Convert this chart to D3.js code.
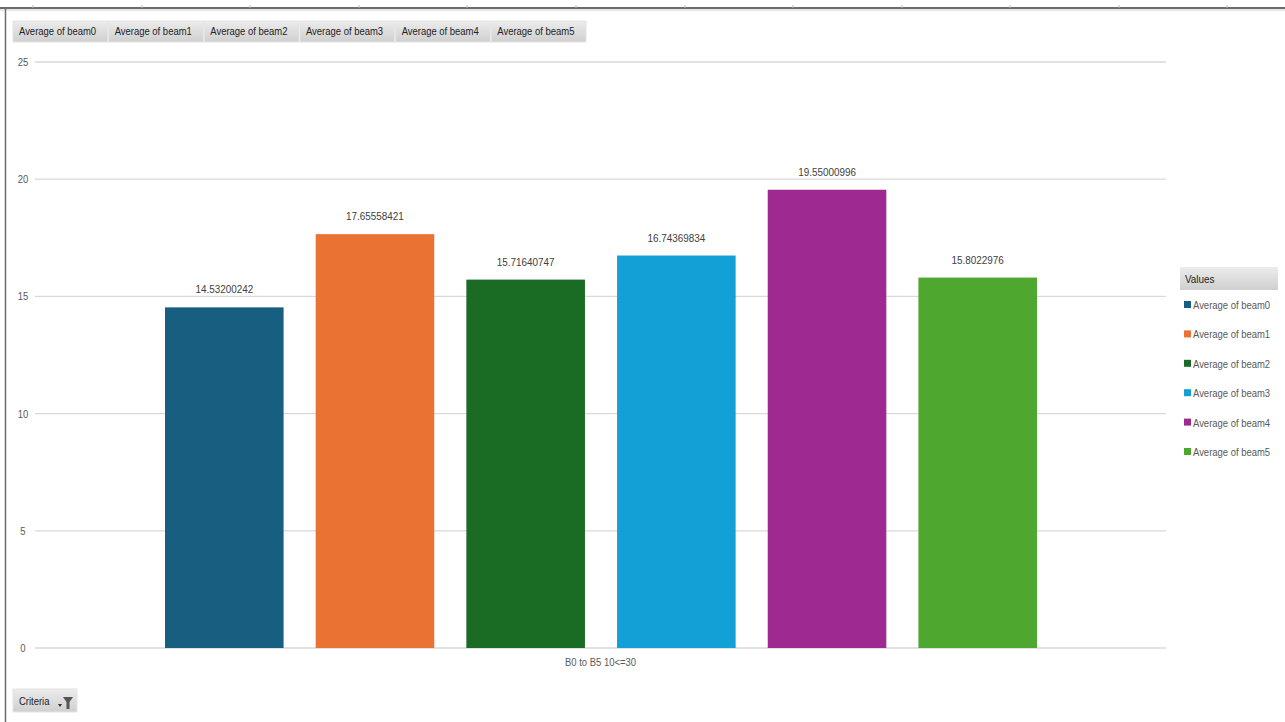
<!DOCTYPE html>
<html><head><meta charset="utf-8">
<script src="https://cdn.jsdelivr.net/npm/d3@7"></script>
<style>
body{margin:0;background:#fff;}
svg{display:block;font-family:"Liberation Sans Narrow","Arial Narrow","Liberation Sans",Arial,sans-serif;}
</style></head><body>
<svg id="c" width="1285" height="722"></svg>
<script>
const series = ["Average of beam0","Average of beam1","Average of beam2","Average of beam3","Average of beam4","Average of beam5"];
const values = [14.53200242,17.65558421,15.71640747,16.74369834,19.55000996,15.8022976];
const labels = ["14.53200242","17.65558421","15.71640747","16.74369834","19.55000996","15.8022976"];
const colors = ["#175e80","#ea7232","#1a6b24","#12a0d7","#9e2a91","#4ea72e"];
const category = "B0 to B5 10<=30";
const yTicks = [0,5,10,15,20,25];

const svg = d3.select("#c");
const defs = svg.append("defs");
const g1 = defs.append("linearGradient").attr("id","btn").attr("x1",0).attr("y1",0).attr("x2",0).attr("y2",1);
g1.append("stop").attr("offset","0%").attr("stop-color","#ececec");
g1.append("stop").attr("offset","100%").attr("stop-color","#cfcfcf");

// frame
svg.append("line").attr("x1",0).attr("x2",1285).attr("y1",8).attr("y2",8).attr("stroke","#6b6b6b").attr("stroke-width",2);
svg.append("line").attr("x1",0).attr("x2",1285).attr("y1",10).attr("y2",10).attr("stroke","#d0d0d0").attr("stroke-width",1);
svg.append("line").attr("x1",5.5).attr("x2",5.5).attr("y1",8).attr("y2",722).attr("stroke","#6b6b6b").attr("stroke-width",1.5);
[33,142,250,359,467,576,685,793,902,1010,1119,1227].forEach(x=>{
  svg.append("line").attr("x1",x).attr("x2",x).attr("y1",5).attr("y2",8).attr("stroke","#bbb");
});

const x0 = d3.scaleBand().domain([category]).range([35,1166]).paddingInner(0).paddingOuter(0);
const x1 = d3.scaleBand().domain(series).range([x0(category)+130, x0(category)+x0.bandwidth()-129]).paddingInner(0.213).paddingOuter(0);
const y = d3.scaleLinear().domain([0,25]).range([648,62]);

// gridlines
svg.append("g").selectAll("line").data(yTicks).join("line")
  .attr("x1",35).attr("x2",1166).attr("y1",d=>y(d)).attr("y2",d=>y(d))
  .attr("stroke","#d9d9d9").attr("stroke-width",1.3);

const yAxis = d3.axisLeft(y).tickValues(yTicks).tickSize(0).tickPadding(0);
const ya = svg.append("g").attr("transform","translate(23,0)").call(yAxis);
ya.select(".domain").remove();
ya.selectAll("text").attr("font-size",11).attr("fill","#595959").attr("text-anchor","middle").attr("font-family","inherit");

// bars
svg.append("g").selectAll("rect").data(series).join("rect")
  .attr("x",d=>x1(d)).attr("width",x1.bandwidth())
  .attr("y",(d,i)=>y(values[i])).attr("height",(d,i)=>y(0)-y(values[i]))
  .attr("fill",(d,i)=>colors[i]);

svg.append("g").selectAll("text").data(series).join("text")
  .attr("x",d=>x1(d)+x1.bandwidth()/2).attr("y",(d,i)=>y(values[i])-14)
  .attr("text-anchor","middle").attr("font-size",11.5).attr("fill","#404040")
  .text((d,i)=>labels[i]);

// x axis label
const xAxis = d3.axisBottom(x0).tickSize(0).tickPadding(10);
const xa = svg.append("g").attr("transform","translate(0,648)").call(xAxis);
xa.select(".domain").remove();
xa.selectAll("text").attr("font-size",11).attr("fill","#595959").attr("font-family","inherit");

// top field buttons
const bx = d3.scaleBand().domain(series).range([13,586]).paddingInner(0.01);
const tb = svg.append("g").selectAll("g").data(series).join("g");
tb.append("rect").attr("x",d=>bx(d)).attr("y",21).attr("width",bx.bandwidth()).attr("height",21)
  .attr("fill","url(#btn)").attr("stroke","#e4e4e4");
tb.append("text").attr("x",d=>bx(d)+6).attr("y",35).attr("font-size",11).attr("fill","#222").text(d=>d);

// Criteria button
svg.append("rect").attr("x",13).attr("y",689).attr("width",64).attr("height",23).attr("fill","url(#btn)").attr("stroke","#e4e4e4");
svg.append("text").attr("x",19).attr("y",705).attr("font-size",11).attr("fill","#222").text("Criteria");
svg.append("path").attr("d","M58,704 l4,0 l-2,3 z").attr("fill","#333");
svg.append("path").attr("d","M63,697 l10,0 l-3.5,5 l0,7 l-3,0 l0,-7 z").attr("fill","#555");

// legend
svg.append("rect").attr("x",1180).attr("y",267).attr("width",98).attr("height",23).attr("fill","url(#btn)");
svg.append("text").attr("x",1185).attr("y",283).attr("font-size",11.5).attr("fill","#222").text("Values");
const ly = d3.scalePoint().domain(series).range([305,452]);
const lg = svg.append("g").selectAll("g").data(series).join("g");
lg.append("rect").attr("x",1184).attr("y",d=>ly(d)-4).attr("width",7).attr("height",7).attr("fill",(d,i)=>colors[i]);
lg.append("text").attr("x",1193).attr("y",d=>ly(d)+4).attr("font-size",11).attr("fill","#595959").text(d=>d);

// condense all text to mimic narrow font
svg.selectAll("text").each(function(){
  const len = this.getComputedTextLength();
  if (len > 0) d3.select(this).attr("textLength", len*0.86).attr("lengthAdjust","spacingAndGlyphs");
});
</script>
</body></html>
